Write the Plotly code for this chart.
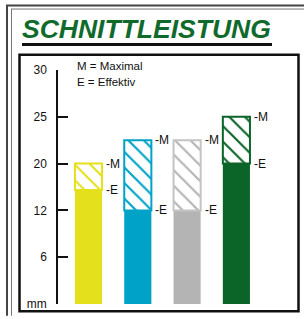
import numpy as np
import plotly.graph_objects as go

# ---- data ----
categories = ["Modell 1", "Modell 2", "Modell 3", "Modell 4"]
effektiv_mm = [15.5, 12, 12, 20]
maximal_mm = [20, 22.5, 22.5, 25]
bar_colors = ["#e4e11c", "#00a2c7", "#b4b4b4", "#0b6428"]
outline_colors = ["#e4e11c", "#00a2c7", "#c4c4c4", "#0b6428"]
tick_mm = [0, 6, 12, 20, 25, 30]
tick_labels = ["mm", "6", "12", "20", "25", "30"]
title_text = "SCHNITTLEISTUNG"
legend_lines = ["M = Maximal", "E = Effektiv"]

# axis uses evenly spaced tick steps (non-linear mm scale)
tick_pos = list(range(len(tick_mm)))
def to_axis(v):
    return np.interp(v, tick_mm, tick_pos)

x_idx = list(range(len(categories)))
e_pos = to_axis(effektiv_mm)
m_pos = to_axis(maximal_mm)

W, H = 304, 319
L, R, T, B = 58, 8, 70, 11
pw, ph = W - L - R, H - T - B
def px(x):
    return (x - L) / pw
def py(y):
    return (H - B - y) / ph

BW = 0.55
FONT = "Liberation Sans, Arial, Helvetica, sans-serif"

fig = go.Figure()
fig.add_trace(go.Bar(
    x=x_idx, y=e_pos, width=BW,
    marker=dict(color=bar_colors, line=dict(width=0)),
    hoverinfo="skip",
))
fig.add_trace(go.Bar(
    x=x_idx, y=m_pos - e_pos, base=e_pos, width=BW,
    marker=dict(
        color=bar_colors,
        line=dict(color=outline_colors, width=2),
        pattern=dict(shape="\\", fillmode="replace", fgcolor=outline_colors,
                     bgcolor="white", size=11, solidity=0.2),
    ),
    hoverinfo="skip",
))

annotations = []
for i in x_idx:
    for lab, pos in (("-M", m_pos[i]), ("-E", e_pos[i])):
        annotations.append(dict(
            x=i + BW / 2, y=pos, xref="x", yref="y", text=lab,
            xanchor="left", yanchor="middle", xshift=2, showarrow=False,
            font=dict(family=FONT, size=12, color="#111"),
        ))

# title
annotations.append(dict(
    x=px(20), y=py(28), xref="paper", yref="paper", text=title_text,
    xanchor="left", yanchor="middle", showarrow=False,
    font=dict(family=FONT, size=26.5, color="#0f6a2c", weight="bold", style="italic"),
))
# legend lines
for k, line in enumerate(legend_lines):
    annotations.append(dict(
        x=px(75), y=py(66 + 16 * k), xref="paper", yref="paper", text=line,
        xanchor="left", yanchor="middle", showarrow=False,
        font=dict(family=FONT, size=11.5, color="#111"),
    ))

shapes = [
    # outer double frame
    dict(type="line", xref="paper", yref="paper", x0=px(6), x1=px(305), y0=py(4.5), y1=py(4.5),
         line=dict(color="#444", width=2)),
    dict(type="line", xref="paper", yref="paper", x0=px(11), x1=px(305), y0=py(8), y1=py(8),
         line=dict(color="#777", width=1)),
    dict(type="line", xref="paper", yref="paper", x0=px(7), x1=px(7), y0=py(4), y1=py(320),
         line=dict(color="#444", width=2)),
    dict(type="line", xref="paper", yref="paper", x0=px(11.5), x1=px(11.5), y0=py(8), y1=py(320),
         line=dict(color="#777", width=1)),
    # inner chart box
    dict(type="rect", xref="paper", yref="paper", x0=px(19.5), x1=px(298.5), y0=py(54.5), y1=py(315.5),
         line=dict(color="#111", width=2.5)),
    # title underline
    dict(type="line", xref="paper", yref="paper", x0=px(22), x1=px(272), y0=py(44), y1=py(44),
         line=dict(color="#111", width=3)),
]

x0 = -(88.5 - L) / 49.3
x1 = x0 + pw / 49.3

fig.update_layout(
    width=W, height=H,
    margin=dict(l=L, r=R, t=T, b=B, pad=0),
    barmode="overlay",
    showlegend=False,
    plot_bgcolor="white", paper_bgcolor="white",
    annotations=annotations,
    shapes=shapes,
    xaxis=dict(visible=False, range=[x0, x1], fixedrange=True),
    yaxis=dict(
        range=[0, len(tick_mm) - 1],
        tickvals=tick_pos, ticktext=tick_labels,
        ticks="inside", ticklen=10, tickwidth=1.5, tickcolor="#111",
        showline=True, linecolor="#111", linewidth=1.5,
        showgrid=False, zeroline=False,
        ticklabelstandoff=7,
        tickfont=dict(family=FONT, size=12, color="#111"),
        fixedrange=True,
    ),
)

fig.write_html(
    "out.html",
    config={"displayModeBar": False},
    post_script="document.body.style.margin='0px';document.body.style.overflow='hidden';",
)
